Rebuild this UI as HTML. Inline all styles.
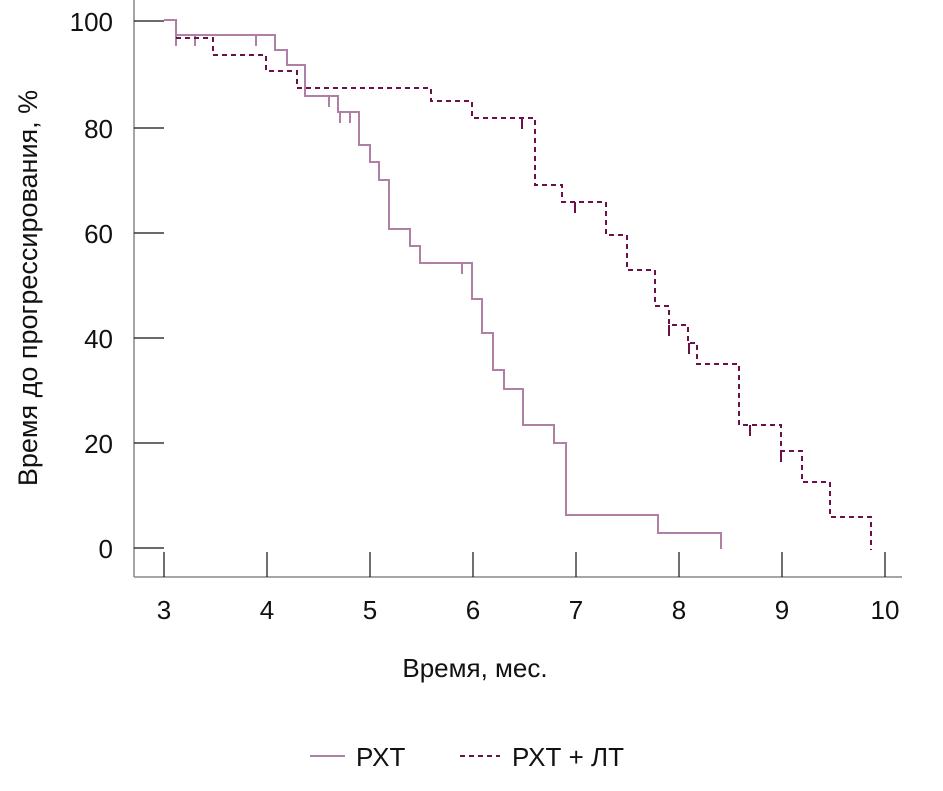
<!DOCTYPE html><html><head><meta charset="utf-8"><style>body{margin:0;background:#fff}svg{display:block}text{font-family:"Liberation Sans",sans-serif;fill:#111}</style></head><body>
<svg width="943" height="791" viewBox="0 0 943 791">
<g stroke="#888" stroke-width="1.5" fill="none"><line x1="134" y1="0" x2="134" y2="577"/><line x1="134" y1="577" x2="902" y2="577"/></g>
<g stroke="#111" stroke-width="1.2">
<line x1="134" y1="21" x2="164" y2="21"/><line x1="134" y1="128" x2="164" y2="128"/><line x1="134" y1="233" x2="164" y2="233"/><line x1="134" y1="338" x2="164" y2="338"/><line x1="134" y1="443" x2="164" y2="443"/><line x1="134" y1="548" x2="164" y2="548"/>
<line x1="164" y1="552" x2="164" y2="577"/><line x1="267" y1="552" x2="267" y2="577"/><line x1="370" y1="552" x2="370" y2="577"/><line x1="473" y1="552" x2="473" y2="577"/><line x1="576" y1="552" x2="576" y2="577"/><line x1="679" y1="552" x2="679" y2="577"/><line x1="782" y1="552" x2="782" y2="577"/><line x1="885" y1="552" x2="885" y2="577"/>
</g>
<g font-size="26" text-anchor="end"><text x="113" y="31">100</text><text x="113" y="138">80</text><text x="113" y="243">60</text><text x="113" y="348">40</text><text x="113" y="453">20</text><text x="113" y="558">0</text></g>
<g font-size="26" text-anchor="middle"><text x="164" y="619">3</text><text x="267" y="619">4</text><text x="370" y="619">5</text><text x="473" y="619">6</text><text x="576" y="619">7</text><text x="679" y="619">8</text><text x="782" y="619">9</text><text x="885" y="619">10</text>
<text x="475" y="677">Время, мес.</text>
<text font-size="27" transform="translate(37,288) rotate(-90)">Время до прогрессирования, %</text></g>
<path fill="none" stroke="#b07fa5" stroke-width="2" d="M164 20H176V35H275V50H287V65H305V96H338V112H359V145H370V162H379V180H389V229H410V246H420V263H472V299H482V333H493V370H504V389H523V425H554V443H566V515H658V533H721V549"/>
<g stroke="#b07fa5" stroke-width="2"><line x1="176" y1="35" x2="176" y2="46"/><line x1="195" y1="35" x2="195" y2="46"/><line x1="256" y1="35" x2="256" y2="46"/><line x1="329" y1="96" x2="329" y2="107"/><line x1="340" y1="112" x2="340" y2="123"/><line x1="350" y1="112" x2="350" y2="123"/><line x1="462" y1="263" x2="462" y2="274"/></g>
<path fill="none" stroke="#6b1048" stroke-width="2" stroke-dasharray="5,4" d="M176 38H213V55H266V71H297V88H431V101H472V118H535V185H562V202H606V235H627V270H655V306H669V325H688V343H697V364H739V384H739V425H781V451H802V482H830V517H871V550"/>
<g stroke="#6b1048" stroke-width="2"><line x1="522" y1="118" x2="522" y2="129"/><line x1="575" y1="202" x2="575" y2="213"/><line x1="669" y1="325" x2="669" y2="336"/><line x1="689" y1="343" x2="689" y2="354"/><line x1="750" y1="425" x2="750" y2="436"/><line x1="781" y1="451" x2="781" y2="462"/></g>
<line x1="310" y1="756" x2="345" y2="756" stroke="#b07fa5" stroke-width="2"/>
<line x1="460" y1="756" x2="500" y2="756" stroke="#6b1048" stroke-width="2" stroke-dasharray="5,4"/>
<g font-size="26"><text x="356" y="766">РХТ</text><text x="512" y="766">РХТ + ЛТ</text></g>
</svg></body></html>
